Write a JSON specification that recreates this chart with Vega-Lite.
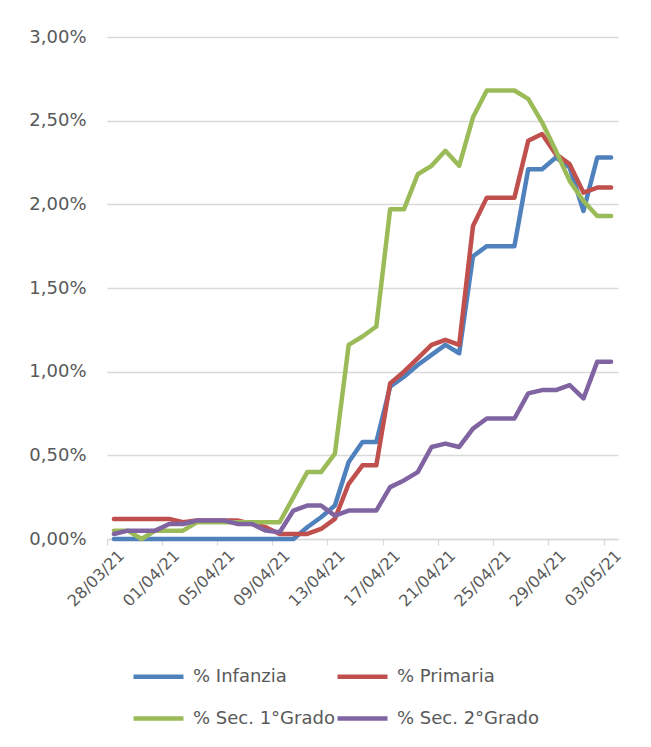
{
  "$schema": "https://vega.github.io/schema/vega-lite/v6.json",
  "width": 511,
  "height": 502,
  "autosize": {"type": "none"},
  "padding": {"left": 107, "top": 37, "right": 33, "bottom": 208},
  "background": "white",
  "config": {"view": {"stroke": null}, "font": "DejaVu Sans"},
  "data": {
    "values": [
      {"data": "28/03/21", "inf": 0.00, "pri": 0.12, "s1": 0.05, "s2": 0.03},
      {"data": "29/03/21", "inf": 0.00, "pri": 0.12, "s1": 0.05, "s2": 0.05},
      {"data": "30/03/21", "inf": 0.00, "pri": 0.12, "s1": 0.00, "s2": 0.05},
      {"data": "31/03/21", "inf": 0.00, "pri": 0.12, "s1": 0.05, "s2": 0.05},
      {"data": "01/04/21", "inf": 0.00, "pri": 0.12, "s1": 0.05, "s2": 0.09},
      {"data": "02/04/21", "inf": 0.00, "pri": 0.10, "s1": 0.05, "s2": 0.09},
      {"data": "03/04/21", "inf": 0.00, "pri": 0.11, "s1": 0.10, "s2": 0.11},
      {"data": "04/04/21", "inf": 0.00, "pri": 0.11, "s1": 0.10, "s2": 0.11},
      {"data": "05/04/21", "inf": 0.00, "pri": 0.11, "s1": 0.10, "s2": 0.11},
      {"data": "06/04/21", "inf": 0.00, "pri": 0.11, "s1": 0.10, "s2": 0.09},
      {"data": "07/04/21", "inf": 0.00, "pri": 0.09, "s1": 0.10, "s2": 0.09},
      {"data": "08/04/21", "inf": 0.00, "pri": 0.07, "s1": 0.10, "s2": 0.05},
      {"data": "09/04/21", "inf": 0.00, "pri": 0.03, "s1": 0.10, "s2": 0.04},
      {"data": "10/04/21", "inf": 0.00, "pri": 0.03, "s1": 0.25, "s2": 0.17},
      {"data": "11/04/21", "inf": 0.07, "pri": 0.03, "s1": 0.40, "s2": 0.20},
      {"data": "12/04/21", "inf": 0.13, "pri": 0.06, "s1": 0.40, "s2": 0.20},
      {"data": "13/04/21", "inf": 0.20, "pri": 0.12, "s1": 0.51, "s2": 0.14},
      {"data": "14/04/21", "inf": 0.46, "pri": 0.33, "s1": 1.16, "s2": 0.17},
      {"data": "15/04/21", "inf": 0.58, "pri": 0.44, "s1": 1.21, "s2": 0.17},
      {"data": "16/04/21", "inf": 0.58, "pri": 0.44, "s1": 1.27, "s2": 0.17},
      {"data": "17/04/21", "inf": 0.91, "pri": 0.93, "s1": 1.97, "s2": 0.31},
      {"data": "18/04/21", "inf": 0.97, "pri": 1.00, "s1": 1.97, "s2": 0.35},
      {"data": "19/04/21", "inf": 1.04, "pri": 1.08, "s1": 2.18, "s2": 0.40},
      {"data": "20/04/21", "inf": 1.10, "pri": 1.16, "s1": 2.23, "s2": 0.55},
      {"data": "21/04/21", "inf": 1.16, "pri": 1.19, "s1": 2.32, "s2": 0.57},
      {"data": "22/04/21", "inf": 1.11, "pri": 1.16, "s1": 2.23, "s2": 0.55},
      {"data": "23/04/21", "inf": 1.69, "pri": 1.87, "s1": 2.52, "s2": 0.66},
      {"data": "24/04/21", "inf": 1.75, "pri": 2.04, "s1": 2.68, "s2": 0.72},
      {"data": "25/04/21", "inf": 1.75, "pri": 2.04, "s1": 2.68, "s2": 0.72},
      {"data": "26/04/21", "inf": 1.75, "pri": 2.04, "s1": 2.68, "s2": 0.72},
      {"data": "27/04/21", "inf": 2.21, "pri": 2.38, "s1": 2.63, "s2": 0.87},
      {"data": "28/04/21", "inf": 2.21, "pri": 2.42, "s1": 2.49, "s2": 0.89},
      {"data": "29/04/21", "inf": 2.28, "pri": 2.30, "s1": 2.32, "s2": 0.89},
      {"data": "30/04/21", "inf": 2.22, "pri": 2.24, "s1": 2.14, "s2": 0.92},
      {"data": "01/05/21", "inf": 1.96, "pri": 2.07, "s1": 2.02, "s2": 0.84},
      {"data": "02/05/21", "inf": 2.28, "pri": 2.10, "s1": 1.93, "s2": 1.06},
      {"data": "03/05/21", "inf": 2.28, "pri": 2.10, "s1": 1.93, "s2": 1.06}
    ]
  },
  "transform": [{"fold": ["inf", "pri", "s1", "s2"], "as": ["serie", "valore"]}],
  "mark": {"type": "line", "strokeWidth": 4.5, "strokeCap": "round", "strokeJoin": "round"},
  "encoding": {
    "x": {
      "field": "data",
      "type": "ordinal",
      "sort": null,
      "bandPosition": 0.5,
      "scale": {"type": "band", "paddingInner": 0, "paddingOuter": 0},
      "axis": {
        "title": null,
        "values": ["28/03/21", "01/04/21", "05/04/21", "09/04/21", "13/04/21", "17/04/21", "21/04/21", "25/04/21", "29/04/21", "03/05/21"],
        "bandPosition": 0,
        "labelAngle": -45,
        "labelAlign": "right",
        "labelBaseline": "top",
        "labelOffset": 2,
        "labelPadding": 2,
        "tickSize": 6,
        "tickColor": "#D9D9D9",
        "tickWidth": 1.3,
        "domainColor": "#D9D9D9",
        "domainWidth": 1.3,
        "grid": false,
        "labelFontSize": 16,
        "labelColor": "#595959"
      }
    },
    "y": {
      "field": "valore",
      "type": "quantitative",
      "scale": {"domain": [0, 3], "nice": false},
      "axis": {
        "title": null,
        "values": [0, 0.5, 1, 1.5, 2, 2.5, 3],
        "labelExpr": "replace(format(datum.value, '.2f'), '.', ',') + '%'",
        "domain": false,
        "ticks": false,
        "gridColor": "#D9D9D9",
        "gridWidth": 1.3,
        "labelPadding": 21,
        "labelFontSize": 18,
        "labelColor": "#595959"
      }
    },
    "color": {
      "field": "serie",
      "type": "nominal",
      "scale": {"domain": ["inf", "pri", "s1", "s2"], "range": ["#4F81BD", "#C0504D", "#9BBB59", "#8064A2"]},
      "legend": {
        "orient": "none",
        "direction": "horizontal",
        "legendX": 24,
        "legendY": 612,
        "columns": 2,
        "title": null,
        "symbolType": "stroke",
        "symbolSize": 2500,
        "symbolStrokeWidth": 4.5,
        "labelFontSize": 18,
        "labelColor": "#595959",
        "labelOffset": 7,
        "columnPadding": -8,
        "rowPadding": 5,
        "labelExpr": "datum.label == 'inf' ? '% Infanzia' : datum.label == 'pri' ? '% Primaria' : datum.label == 's1' ? '% Sec. 1°Grado' : '% Sec. 2°Grado'"
      }
    }
  }
}
